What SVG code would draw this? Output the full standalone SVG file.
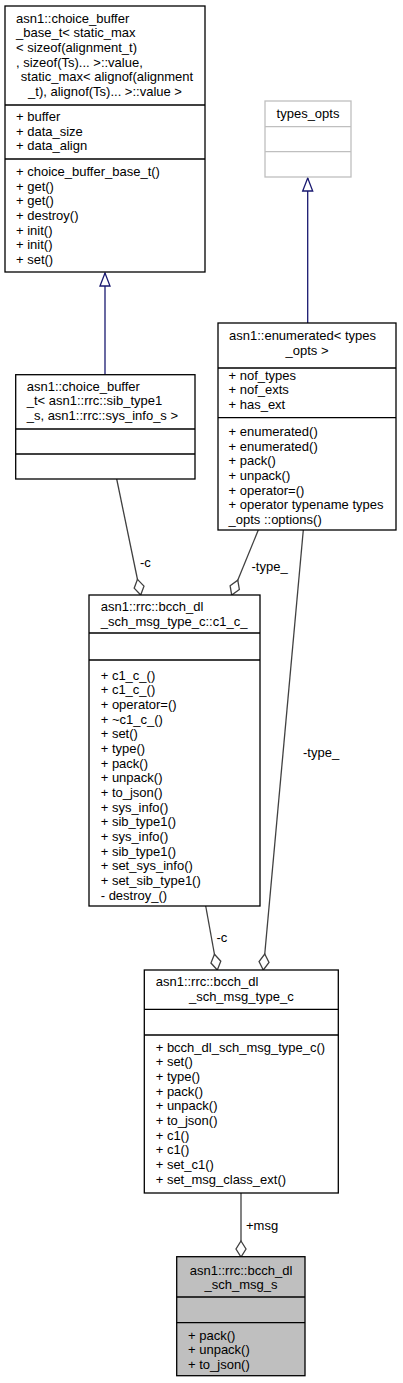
<svg xmlns="http://www.w3.org/2000/svg" width="403" height="1383" viewBox="0 0 403 1383">
<style>
text { font-family: "Liberation Sans", Arial, sans-serif; font-size: 13px; fill: #000; }
.box { fill: #fff; stroke: #000; stroke-width: 1.3; }
.gbox { fill: #fff; stroke: #bfbfbf; stroke-width: 1.3; }
.hbox { fill: #bfbfbf; stroke: #000; stroke-width: 1.3; }
.div { stroke: #000; stroke-width: 1.3; }
.gdiv { stroke: #bfbfbf; stroke-width: 1.3; }
.mid { text-anchor: middle; }
.assoc { fill: none; stroke: #404040; stroke-width: 1.3; marker-end: url(#dia); }
.inh { fill: none; stroke: #191970; stroke-width: 1.3; marker-end: url(#tri); }
</style>
<defs>
<marker id="dia" markerUnits="userSpaceOnUse" markerWidth="20" markerHeight="14" viewBox="-2 -7 20 14" refX="16" refY="0" orient="auto">
<path d="M0,0 L8,-5 L16,0 L8,5 Z" fill="#fff" stroke="#404040" stroke-width="1.3"/>
</marker>
<marker id="tri" markerUnits="userSpaceOnUse" markerWidth="18" markerHeight="14" viewBox="-2 -7 18 14" refX="13" refY="0" orient="auto">
<path d="M0,-5 L13,0 L0,5 Z" fill="#fff" stroke="#191970" stroke-width="1.3"/>
</marker>
</defs>

<g id="connectors">
<path class="inh" d="M105,375 L105,273"/>
<path class="inh" d="M307.7,323 L307.7,178"/>
<path class="assoc" d="M116.7,479 L140.7,595"/>
<text x="140" y="567">-c</text>
<path class="assoc" d="M258.3,530 L231.7,595"/>
<text x="251.5" y="571">-type_</text>
<path class="assoc" d="M303.3,530 L263.3,970"/>
<text x="303" y="757">-type_</text>
<path class="assoc" d="M205.7,906 L217.3,970"/>
<text x="216.5" y="942">-c</text>
<path class="assoc" d="M241,1193 L241,1257"/>
<text x="246" y="1229.5">+msg</text>
</g>

<g id="node_choice_buffer_base">
<rect class="box" x="5" y="6" width="200" height="266"/>
<text x="16" y="22.5">asn1::choice_buffer</text>
<text x="16" y="37.2">_base_t&lt; static_max</text>
<text x="16" y="51.8">&lt; sizeof(alignment_t)</text>
<text x="16" y="66.5">, sizeof(Ts)... &gt;::value,</text>
<text class="mid" x="107" y="81.2">static_max&lt; alignof(alignment</text>
<text class="mid" x="105" y="95.8">_t), alignof(Ts)... &gt;::value &gt;</text>
<line class="div" x1="5" y1="105" x2="205" y2="105"/>
<text x="16" y="121">+ buffer</text>
<text x="16" y="135.7">+ data_size</text>
<text x="16" y="150.3">+ data_align</text>
<line class="div" x1="5" y1="159" x2="205" y2="159"/>
<text x="16" y="176">+ choice_buffer_base_t()</text>
<text x="16" y="190.7">+ get()</text>
<text x="16" y="205.3">+ get()</text>
<text x="16" y="220">+ destroy()</text>
<text x="16" y="234.7">+ init()</text>
<text x="16" y="249.3">+ init()</text>
<text x="16" y="264">+ set()</text>
</g>

<g id="node_types_opts">
<rect class="gbox" x="265" y="101" width="86" height="76"/>
<text class="mid" x="308" y="117.5">types_opts</text>
<line class="gdiv" x1="265" y1="126.7" x2="351" y2="126.7"/>
<line class="gdiv" x1="265" y1="151.7" x2="351" y2="151.7"/>
</g>

<g id="node_enumerated">
<rect class="box" x="218" y="323" width="178" height="207"/>
<text x="229" y="340">asn1::enumerated&lt; types</text>
<text class="mid" x="307" y="354.6">_opts &gt;</text>
<line class="div" x1="218" y1="368" x2="396" y2="368"/>
<text x="228.5" y="379.5">+ nof_types</text>
<text x="228.5" y="394.2">+ nof_exts</text>
<text x="228.5" y="408.8">+ has_ext</text>
<line class="div" x1="218" y1="417.7" x2="396" y2="417.7"/>
<text x="228.5" y="436">+ enumerated()</text>
<text x="228.5" y="450.7">+ enumerated()</text>
<text x="228.5" y="465.3">+ pack()</text>
<text x="228.5" y="480">+ unpack()</text>
<text x="228.5" y="494.7">+ operator=()</text>
<text x="228.5" y="509.3">+ operator typename types</text>
<text x="228.5" y="524">_opts ::options()</text>
</g>

<g id="node_choice_buffer_t">
<rect class="box" x="15.7" y="374.7" width="179.3" height="104.3"/>
<text x="26.7" y="390.5">asn1::choice_buffer</text>
<text x="26.7" y="405.2">_t&lt; asn1::rrc::sib_type1</text>
<text x="26.7" y="419.8">_s, asn1::rrc::sys_info_s &gt;</text>
<line class="div" x1="15.7" y1="429" x2="195" y2="429"/>
<line class="div" x1="15.7" y1="454" x2="195" y2="454"/>
</g>

<g id="node_c1_c">
<rect class="box" x="89" y="595" width="171" height="311"/>
<text x="100.7" y="611">asn1::rrc::bcch_dl</text>
<text x="100.7" y="625.7">_sch_msg_type_c::c1_c_</text>
<line class="div" x1="89" y1="633" x2="260" y2="633"/>
<line class="div" x1="89" y1="660" x2="260" y2="660"/>
<text x="100.7" y="679.5">+ c1_c_()</text>
<text x="100.7" y="694.2">+ c1_c_()</text>
<text x="100.7" y="708.8">+ operator=()</text>
<text x="100.7" y="723.5">+ ~c1_c_()</text>
<text x="100.7" y="738.2">+ set()</text>
<text x="100.7" y="752.8">+ type()</text>
<text x="100.7" y="767.5">+ pack()</text>
<text x="100.7" y="782.2">+ unpack()</text>
<text x="100.7" y="796.8">+ to_json()</text>
<text x="100.7" y="811.5">+ sys_info()</text>
<text x="100.7" y="826.2">+ sib_type1()</text>
<text x="100.7" y="840.8">+ sys_info()</text>
<text x="100.7" y="855.5">+ sib_type1()</text>
<text x="100.7" y="870.2">+ set_sys_info()</text>
<text x="100.7" y="884.8">+ set_sib_type1()</text>
<text x="100.7" y="899.5">- destroy_()</text>
</g>

<g id="node_bcch_dl_sch_msg_type_c">
<rect class="box" x="144.3" y="970" width="194" height="223"/>
<text x="155.7" y="986">asn1::rrc::bcch_dl</text>
<text class="mid" x="241.3" y="1000.7">_sch_msg_type_c</text>
<line class="div" x1="144.3" y1="1009.3" x2="338.3" y2="1009.3"/>
<line class="div" x1="144.3" y1="1035" x2="338.3" y2="1035"/>
<text x="155.7" y="1051.5">+ bcch_dl_sch_msg_type_c()</text>
<text x="155.7" y="1066.2">+ set()</text>
<text x="155.7" y="1080.8">+ type()</text>
<text x="155.7" y="1095.5">+ pack()</text>
<text x="155.7" y="1110.2">+ unpack()</text>
<text x="155.7" y="1124.8">+ to_json()</text>
<text x="155.7" y="1139.5">+ c1()</text>
<text x="155.7" y="1154.2">+ c1()</text>
<text x="155.7" y="1168.8">+ set_c1()</text>
<text x="155.7" y="1183.5">+ set_msg_class_ext()</text>
</g>

<g id="node_bcch_dl_sch_msg_s">
<rect class="hbox" x="176.7" y="1256.7" width="128.3" height="119"/>
<text class="mid" x="241" y="1274.5">asn1::rrc::bcch_dl</text>
<text class="mid" x="241" y="1289">_sch_msg_s</text>
<line class="div" x1="176.7" y1="1297" x2="305" y2="1297"/>
<line class="div" x1="176.7" y1="1322.7" x2="305" y2="1322.7"/>
<text x="188" y="1339.5">+ pack()</text>
<text x="188" y="1354.2">+ unpack()</text>
<text x="188" y="1368.8">+ to_json()</text>
</g>
</svg>
